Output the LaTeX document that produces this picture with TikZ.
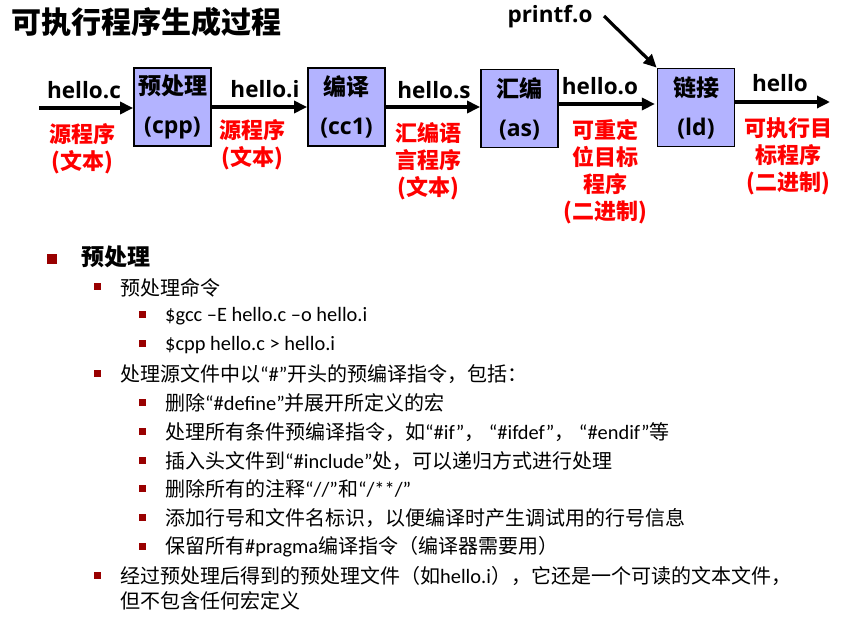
\documentclass[tikz,border=0pt]{standalone}
\usepackage{fontspec}
\setmainfont{Noto Sans CJK SC}
\newfontfamily\osans{Open Sans}
\newfontfamily\carl{Carlito}[Scale=1.02]
\usetikzlibrary{arrows.meta}
\definecolor{boxfill}{HTML}{B3B3FF}
\definecolor{redtxt}{HTML}{FF0000}
\definecolor{bulletred}{HTML}{990000}
\tikzset{
  proc/.style={draw=black, line width=1.8pt, fill=boxfill, minimum width=77pt,
    minimum height=78pt, inner sep=0pt, align=center,
    font=\fontsize{23}{39}\selectfont\bfseries},
  flow/.style={line width=3.2pt, -{Triangle[length=13pt,width=12pt]}},
  fname/.style={anchor=base, inner sep=0pt, font=\fontsize{22.5}{26}\selectfont\bfseries\osans},
  kind/.style={text=redtxt, inner sep=0pt, align=center,
    font=\fontsize{22}{27}\selectfont\bfseries},
  title/.style={anchor=west, inner sep=0pt, font=\fontsize{30}{33}\selectfont\bfseries},
  sqA/.style={fill=bulletred, minimum size=9.5pt, inner sep=0pt},
  sqB/.style={fill=bulletred, minimum size=7pt, inner sep=0pt},
  txtA/.style={anchor=west, inner sep=0pt, font=\fontsize{23}{26}\selectfont\bfseries},
  txtB/.style={anchor=west, inner sep=0pt, align=left, font=\fontsize{20}{25}\selectfont},
}
\begin{document}
\begin{tikzpicture}[x=1pt, y=-1pt]
\useasboundingbox (0,0) rectangle (868,635);

% heading
\node[title] (head) at (11,22.5) {可执行程序生成过程};

% tool chain
\node[proc] (cpp) at (172.5,107) {预处理\\{\osans (cpp)}};
\node[proc] (cc)  at (346.5,107) {编译\\{\osans (cc1)}};
\node[proc] (as)  at (519.5,108.5) {汇编\\{\osans (as)}};
\node[proc] (ld)  at (696,107.5) {链接\\{\osans (ld)}};

\coordinate (src) at (39,108);
\coordinate (exe) at (830,102);
\coordinate (pfs) at (604,16);

\draw[flow] (src) -- (src -| cpp.west);
\draw[flow] (cpp.east) -- (cc.west);
\draw[flow] (cc.east) -- (cc.east -| as.west);
\draw[flow] (as.east |- ld.west) ++(0,-3.5) -- ++(96,0) coordinate (oin);
\draw[flow] (exe -| ld.east) -- (exe);
\draw[flow] (pfs) -- (ld.north west);

% file names
\node[fname] (fc) at (84,98) {hello.c};
\node[fname] (fi) at (265,97) {hello.i};
\node[fname] (fs) at (434,98) {hello.s};
\node[fname] (fo) at (600,94) {hello.o};
\node[fname] (fh) at (780,91) {hello};
\node[fname] (fp) at (550,22) {printf.o};

% file kinds
\node[kind] (kc) at (82,149) {源程序\\(文本)};
\node[kind] (ki) at (252,145) {源程序\\(文本)};
\node[kind] (ks) at (428,161.5) {汇编语\\言程序\\(文本)};
\node[kind] (ko) at (605,172) {可重定\\位目标\\程序\\(二进制)};
\node[kind] (kh) at (788,156.5) {可执行目\\标程序\\(二进制)};

% notes
\node[sqA] (p0) at (52,259) {};
\node[txtA] (t0) at (81,257) {预处理};

\node[sqB] (p1) at (97,286.5) {};
\node[txtB] (t1) at (120,287.5) {预处理命令};
\node[sqB] (p2) at (142.5,314) {};
\node[txtB] (t2) at (165,316) {\carl \$gcc –E hello.c –o hello.i};
\node[sqB] (p3) at (142.5,343) {};
\node[txtB] (t3) at (165,345) {\carl \$cpp hello.c > hello.i};

\node[sqB] (p4) at (97,373) {};
\node[txtB] (t4) at (120,374) {处理源文件中以{\carl “\#”}开头的预编译指令，包括：};
\node[sqB] (p5) at (142.5,402) {};
\node[txtB] (t5) at (165,403) {删除{\carl “\#define”}并展开所定义的宏};
\node[sqB] (p6) at (142.5,431) {};
\node[txtB] (t6) at (165,432) {处理所有条件预编译指令，如{\carl “\#if”}， {\carl “\#ifdef”}， {\carl “\#endif”}等};
\node[sqB] (p7) at (142.5,460) {};
\node[txtB] (t7) at (165,461) {插入头文件到{\carl “\#include”}处，可以递归方式进行处理};
\node[sqB] (p8) at (142.5,488) {};
\node[txtB] (t8) at (165,489) {删除所有的注释{\carl “//”}和{\carl “/**/”}};
\node[sqB] (p9) at (142.5,517) {};
\node[txtB] (t9) at (165,518) {添加行号和文件名标识，以便编译时产生调试用的行号信息};
\node[sqB] (p10) at (142.5,546) {};
\node[txtB] (t10) at (165,547) {保留所有{\carl \#pragma}编译指令（编译器需要用）};

\node[sqB] (p11) at (97,575) {};
\node[txtB] (t11) at (120,588.5) {经过预处理后得到的预处理文件（如{\carl hello.i}），它还是一个可读的文本文件，\\但不包含任何宏定义};
\end{tikzpicture}
\end{document}
